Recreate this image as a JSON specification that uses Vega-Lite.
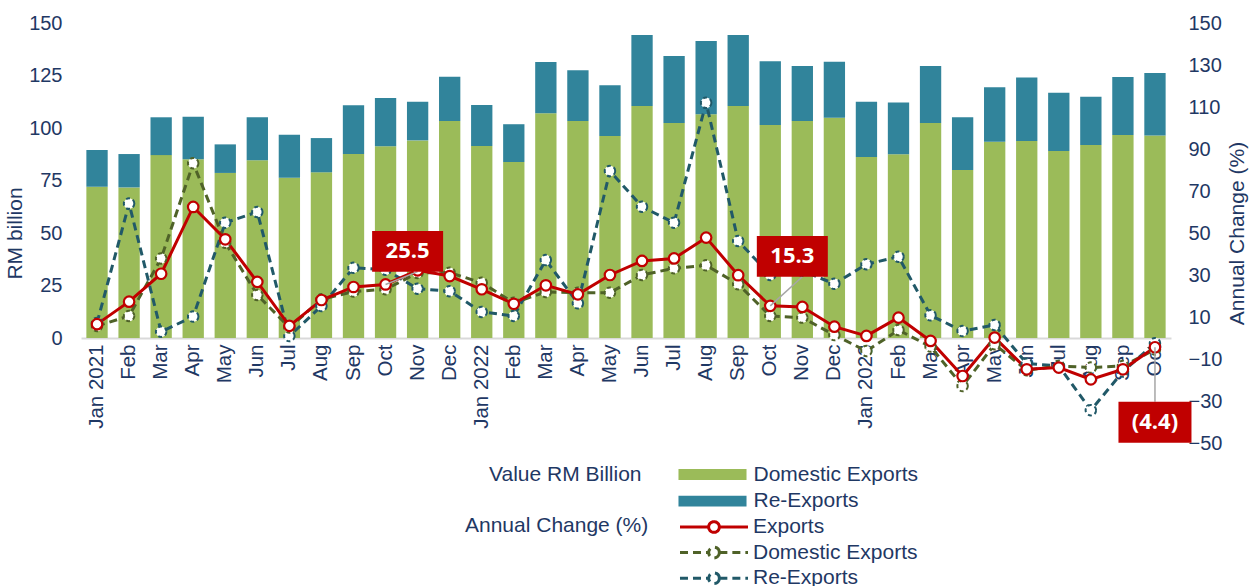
{
  "$schema": "https://vega.github.io/schema/vega-lite/v6.json",
  "width": 1090,
  "height": 420,
  "autosize": {"type": "none"},
  "padding": {"left": 81, "top": 23, "right": 87, "bottom": 143},
  "background": "white",
  "config": {
    "font": "Liberation Sans",
    "view": {"stroke": null},
    "axis": {"labelColor": "#1F3864", "titleColor": "#1F3864", "labelFont": "Liberation Sans", "titleFont": "Liberation Sans", "labelFontSize": 20, "titleFontSize": 21, "titleFontWeight": "normal", "grid": false, "ticks": false},
    "legend": {"labelColor": "#1F3864", "titleColor": "#1F3864", "labelFont": "Liberation Sans", "titleFont": "Liberation Sans", "labelFontSize": 21, "titleFontSize": 21, "titleFontWeight": "normal", "labelLimit": 400, "titleLimit": 400, "padding": 0}
  },
  "datasets": {
    "values": [
      {"m": "Jan 2021", "Domestic Exports": 72.0, "Re-Exports": 17.5},
      {"m": "Feb 2021", "Domestic Exports": 71.7, "Re-Exports": 15.9},
      {"m": "Mar 2021", "Domestic Exports": 87.1, "Re-Exports": 18.0},
      {"m": "Apr 2021", "Domestic Exports": 85.1, "Re-Exports": 20.3},
      {"m": "May 2021", "Domestic Exports": 78.6, "Re-Exports": 13.6},
      {"m": "Jun 2021", "Domestic Exports": 84.6, "Re-Exports": 20.5},
      {"m": "Jul 2021", "Domestic Exports": 76.3, "Re-Exports": 20.5},
      {"m": "Aug 2021", "Domestic Exports": 78.9, "Re-Exports": 16.3},
      {"m": "Sep 2021", "Domestic Exports": 87.6, "Re-Exports": 23.2},
      {"m": "Oct 2021", "Domestic Exports": 91.3, "Re-Exports": 23.0},
      {"m": "Nov 2021", "Domestic Exports": 94.1, "Re-Exports": 18.4},
      {"m": "Dec 2021", "Domestic Exports": 103.3, "Re-Exports": 21.1},
      {"m": "Jan 2022", "Domestic Exports": 91.4, "Re-Exports": 19.6},
      {"m": "Feb 2022", "Domestic Exports": 83.8, "Re-Exports": 18.0},
      {"m": "Mar 2022", "Domestic Exports": 107.0, "Re-Exports": 24.4},
      {"m": "Apr 2022", "Domestic Exports": 103.3, "Re-Exports": 24.2},
      {"m": "May 2022", "Domestic Exports": 96.2, "Re-Exports": 24.1},
      {"m": "Jun 2022", "Domestic Exports": 110.5, "Re-Exports": 33.8},
      {"m": "Jul 2022", "Domestic Exports": 102.4, "Re-Exports": 31.9},
      {"m": "Aug 2022", "Domestic Exports": 106.5, "Re-Exports": 34.9},
      {"m": "Sep 2022", "Domestic Exports": 110.5, "Re-Exports": 33.8},
      {"m": "Oct 2022", "Domestic Exports": 101.4, "Re-Exports": 30.4},
      {"m": "Nov 2022", "Domestic Exports": 103.3, "Re-Exports": 26.2},
      {"m": "Dec 2022", "Domestic Exports": 104.9, "Re-Exports": 26.7},
      {"m": "Jan 2023", "Domestic Exports": 86.2, "Re-Exports": 26.3},
      {"m": "Feb 2023", "Domestic Exports": 87.5, "Re-Exports": 24.7},
      {"m": "Mar 2023", "Domestic Exports": 102.4, "Re-Exports": 27.1},
      {"m": "Apr 2023", "Domestic Exports": 80.0, "Re-Exports": 25.1},
      {"m": "May 2023", "Domestic Exports": 93.5, "Re-Exports": 25.9},
      {"m": "Jun 2023", "Domestic Exports": 93.8, "Re-Exports": 30.2},
      {"m": "Jul 2023", "Domestic Exports": 89.0, "Re-Exports": 27.8},
      {"m": "Aug 2023", "Domestic Exports": 91.9, "Re-Exports": 23.0},
      {"m": "Sep 2023", "Domestic Exports": 96.7, "Re-Exports": 27.6},
      {"m": "Oct 2023", "Domestic Exports": 96.4, "Re-Exports": 29.8}
    ],
    "growth": [
      {"m": "Jan 2021", "Exports": 6.6, "Domestic Exports": 5.7, "Re-Exports": 7.2},
      {"m": "Feb 2021", "Exports": 17.3, "Domestic Exports": 10.5, "Re-Exports": 64.0},
      {"m": "Mar 2021", "Exports": 30.6, "Domestic Exports": 37.9, "Re-Exports": 3.0},
      {"m": "Apr 2021", "Exports": 62.4, "Domestic Exports": 83.2, "Re-Exports": 10.2},
      {"m": "May 2021", "Exports": 47.0, "Domestic Exports": 45.4, "Re-Exports": 54.9},
      {"m": "Jun 2021", "Exports": 26.7, "Domestic Exports": 20.5, "Re-Exports": 60.0},
      {"m": "Jul 2021", "Exports": 5.8, "Domestic Exports": 5.0, "Re-Exports": 0.9},
      {"m": "Aug 2021", "Exports": 18.1, "Domestic Exports": 18.4, "Re-Exports": 15.2},
      {"m": "Sep 2021", "Exports": 24.3, "Domestic Exports": 22.1, "Re-Exports": 33.4},
      {"m": "Oct 2021", "Exports": 25.5, "Domestic Exports": 23.2, "Re-Exports": 32.5},
      {"m": "Nov 2021", "Exports": 32.2, "Domestic Exports": 31.0, "Re-Exports": 23.5},
      {"m": "Dec 2021", "Exports": 29.5, "Domestic Exports": 31.1, "Re-Exports": 22.3},
      {"m": "Jan 2022", "Exports": 23.2, "Domestic Exports": 26.3, "Re-Exports": 12.4},
      {"m": "Feb 2022", "Exports": 16.3, "Domestic Exports": 16.8, "Re-Exports": 10.5},
      {"m": "Mar 2022", "Exports": 25.1, "Domestic Exports": 21.9, "Re-Exports": 37.1},
      {"m": "Apr 2022", "Exports": 20.8, "Domestic Exports": 21.6, "Re-Exports": 16.5},
      {"m": "May 2022", "Exports": 30.0, "Domestic Exports": 21.6, "Re-Exports": 79.5},
      {"m": "Jun 2022", "Exports": 36.7, "Domestic Exports": 30.0, "Re-Exports": 62.5},
      {"m": "Jul 2022", "Exports": 37.9, "Domestic Exports": 33.2, "Re-Exports": 54.9},
      {"m": "Aug 2022", "Exports": 47.8, "Domestic Exports": 34.6, "Re-Exports": 112.0},
      {"m": "Sep 2022", "Exports": 29.9, "Domestic Exports": 25.6, "Re-Exports": 46.2},
      {"m": "Oct 2022", "Exports": 15.3, "Domestic Exports": 10.5, "Re-Exports": 30.0},
      {"m": "Nov 2022", "Exports": 14.8, "Domestic Exports": 9.7, "Re-Exports": 32.0},
      {"m": "Dec 2022", "Exports": 5.4, "Domestic Exports": 1.4, "Re-Exports": 25.8},
      {"m": "Jan 2023", "Exports": 1.0, "Domestic Exports": -6.2, "Re-Exports": 35.1},
      {"m": "Feb 2023", "Exports": 9.7, "Domestic Exports": 3.8, "Re-Exports": 38.7},
      {"m": "Mar 2023", "Exports": -1.4, "Domestic Exports": -4.1, "Re-Exports": 10.8},
      {"m": "Apr 2023", "Exports": -18.1, "Domestic Exports": -22.9, "Re-Exports": 3.3},
      {"m": "May 2023", "Exports": 0.2, "Domestic Exports": -3.0, "Re-Exports": 6.2},
      {"m": "Jun 2023", "Exports": -14.9, "Domestic Exports": -15.4, "Re-Exports": -12.2},
      {"m": "Jul 2023", "Exports": -14.1, "Domestic Exports": -13.3, "Re-Exports": -13.3},
      {"m": "Aug 2023", "Exports": -19.7, "Domestic Exports": -14.1, "Re-Exports": -34.4},
      {"m": "Sep 2023", "Exports": -14.9, "Domestic Exports": -13.3, "Re-Exports": -16.0},
      {"m": "Oct 2023", "Exports": -4.4, "Domestic Exports": -5.5, "Re-Exports": -2.5}
    ],
    "notes": [
      {"m": "Oct 2021", "m2": "Nov 2021", "v": 25.5, "v2": 31.6, "bx": "Nov 2021", "b1": 31.6, "b2": 51.0, "bc": 41.3, "t": "25.5", "g": "up"},
      {"m": "Oct 2022", "m2": "Nov 2022", "v": 15.3, "v2": 29.2, "bx": "Nov 2022", "b1": 29.2, "b2": 48.6, "bc": 38.9, "t": "15.3", "g": "up"},
      {"m": "Oct 2023", "m2": "Oct 2023", "v": -4.4, "v2": -30.3, "bx": "Oct 2023", "b1": -49.9, "b2": -30.3, "bc": -40.1, "t": "(4.4)", "g": "down"}
    ]
  },
  "layer": [
    {
      "data": {"name": "values"},
      "transform": [{"fold": ["Domestic Exports", "Re-Exports"], "as": ["component", "rm"]}],
      "mark": {"type": "bar"},
      "encoding": {
        "x": {
          "field": "m", "type": "nominal", "sort": null, "title": null,
          "scale": {"domain": ["Jan 2021","Feb 2021","Mar 2021","Apr 2021","May 2021","Jun 2021","Jul 2021","Aug 2021","Sep 2021","Oct 2021","Nov 2021","Dec 2021","Jan 2022","Feb 2022","Mar 2022","Apr 2022","May 2022","Jun 2022","Jul 2022","Aug 2022","Sep 2022","Oct 2022","Nov 2022","Dec 2022","Jan 2023","Feb 2023","Mar 2023","Apr 2023","May 2023","Jun 2023","Jul 2023","Aug 2023","Sep 2023","Oct 2023"], "paddingInner": 0.335, "paddingOuter": 0.1675},
          "axis": {"title": null, "offset": -105, "labelAngle": -90, "labelAlign": "right", "labelBaseline": "middle", "labelPadding": 6, "domainColor": "#D9D9D9", "domainWidth": 2, "labelOverlap": false, "labelFontSize": 20.5, "labelExpr": "indexof(datum.value,'Jan')==0 ? datum.value : slice(datum.value,0,3)"}
        },
        "y": {
          "field": "rm", "type": "quantitative", "stack": "zero",
          "scale": {"domain": [-50, 150], "nice": false, "zero": false},
          "axis": {"title": "RM billion", "values": [0, 25, 50, 75, 100, 125, 150], "domain": false, "labelPadding": 19, "titlePadding": 3}
        },
        "fill": {
          "field": "component", "type": "nominal",
          "scale": {"domain": ["Domestic Exports", "Re-Exports"], "range": ["#9BBB59", "#31849B"]},
          "legend": {"title": "Value RM Billion", "orient": "none", "legendX": 408, "legendY": 441, "titleOrient": "left", "titleAnchor": "start", "titleBaseline": "top", "titlePadding": 60, "symbolType": "M-3.24,-0.52H3.24V0.52H-3.24Z", "symbolSize": 441, "symbolStrokeWidth": 0, "labelOffset": 30.5, "rowPadding": 4.6}
        },
        "order": {"field": "component", "sort": "ascending"}
      }
    },
    {
      "data": {"name": "growth"},
      "transform": [{"fold": ["Re-Exports", "Domestic Exports", "Exports"], "as": ["series", "pct"]}],
      "layer": [
        {
          "transform": [{"filter": "datum.series != 'Exports'"}],
          "mark": {"type": "line", "strokeWidth": 3},
          "encoding": {
            "x": {"field": "m", "type": "nominal", "sort": null, "title": null},
            "y": {
              "field": "pct", "type": "quantitative", "title": "Annual Change (%)",
              "scale": {"domain": [-50, 150], "nice": false, "zero": false},
              "axis": {"orient": "right", "title": "Annual Change (%)", "values": [-50, -30, -10, 10, 30, 50, 70, 90, 110, 130, 150], "domain": false, "labelPadding": 17, "titlePadding": 5, "titleAngle": -90, "titleBaseline": "top"}
            },
            "stroke": {
              "field": "series", "type": "nominal",
              "scale": {"domain": ["Exports", "Domestic Exports", "Re-Exports"], "range": ["#C00000", "#4F6228", "#215968"]},
              "legend": {"title": "Annual Change (%)", "orient": "none", "legendX": 384, "legendY": 492, "titleOrient": "left", "titleAnchor": "start", "titleBaseline": "top", "titlePadding": 53, "symbolType": "M-3.24,0H-0.51M0.51,0H3.24M0.51,0A0.51,0.51,0,1,1,-0.51,0A0.51,0.51,0,1,1,0.51,0", "symbolSize": 441, "symbolStrokeWidth": 3, "symbolFillColor": "white", "labelOffset": 27, "rowPadding": 1.6, "encode": {"symbols": {"update": {"fill": {"value": "white"}}}}}
            },
            "strokeDash": {
              "field": "series", "type": "nominal",
              "scale": {"domain": ["Exports", "Domestic Exports", "Re-Exports"], "range": [[1, 0], [8, 5], [8, 5]]},
              "legend": {"title": "Annual Change (%)", "orient": "none", "legendX": 384, "legendY": 492, "titleOrient": "left", "titleAnchor": "start", "titleBaseline": "top", "titlePadding": 53, "symbolType": "M-3.24,0H-0.51M0.51,0H3.24M0.51,0A0.51,0.51,0,1,1,-0.51,0A0.51,0.51,0,1,1,0.51,0", "symbolSize": 441, "symbolStrokeWidth": 3, "symbolFillColor": "white", "labelOffset": 27, "rowPadding": 1.6, "encode": {"symbols": {"update": {"fill": {"value": "white"}}}}}
            }
          }
        },
        {
          "transform": [{"filter": "datum.series == 'Exports'"}],
          "mark": {"type": "line", "strokeWidth": 3},
          "encoding": {
            "x": {"field": "m", "type": "nominal", "sort": null, "title": null},
            "y": {"field": "pct", "type": "quantitative", "title": "Annual Change (%)"},
            "stroke": {"field": "series", "type": "nominal", "legend": null}
          }
        },
        {
          "transform": [{"filter": "datum.series != 'Exports'"}],
          "mark": {"type": "point", "shape": "circle", "filled": true, "fill": "white", "opacity": 1, "size": 110, "strokeWidth": 2, "strokeDash": [4, 3]},
          "encoding": {
            "x": {"field": "m", "type": "nominal", "sort": null, "title": null},
            "y": {"field": "pct", "type": "quantitative", "title": "Annual Change (%)"},
            "stroke": {"field": "series", "type": "nominal", "legend": null}
          }
        },
        {
          "transform": [{"filter": "datum.series == 'Exports'"}],
          "mark": {"type": "point", "shape": "circle", "filled": true, "fill": "white", "opacity": 1, "size": 110, "strokeWidth": 2.2},
          "encoding": {
            "x": {"field": "m", "type": "nominal", "sort": null, "title": null},
            "y": {"field": "pct", "type": "quantitative", "title": "Annual Change (%)"},
            "stroke": {"field": "series", "type": "nominal", "legend": null}
          }
        },
        {
          "data": {"name": "notes"},
          "mark": {"type": "rule", "color": "#A6A6A6", "strokeWidth": 1.5},
          "encoding": {
            "x": {"field": "m", "type": "nominal", "title": null},
            "x2": {"field": "m2"},
            "y": {"field": "v", "type": "quantitative", "title": "Annual Change (%)"},
            "y2": {"field": "v2"}
          }
        },
        {
          "data": {"name": "notes"},
          "transform": [{"filter": "datum.g == 'up'"}],
          "mark": {"type": "bar", "color": "#C00000", "width": 71, "xOffset": -10},
          "encoding": {
            "x": {"field": "bx", "type": "nominal", "title": null},
            "y": {"field": "b1", "type": "quantitative", "title": "Annual Change (%)"},
            "y2": {"field": "b2"}
          }
        },
        {
          "data": {"name": "notes"},
          "transform": [{"filter": "datum.g == 'down'"}],
          "mark": {"type": "bar", "color": "#C00000", "width": 73},
          "encoding": {
            "x": {"field": "bx", "type": "nominal", "title": null},
            "y": {"field": "b1", "type": "quantitative", "title": "Annual Change (%)"},
            "y2": {"field": "b2"}
          }
        },
        {
          "data": {"name": "notes"},
          "transform": [{"filter": "datum.g == 'up'"}],
          "mark": {"type": "text", "color": "white", "font": "Open Sans", "fontWeight": "bold", "fontSize": 22, "align": "center", "baseline": "middle", "xOffset": -10},
          "encoding": {
            "x": {"field": "bx", "type": "nominal", "title": null},
            "y": {"field": "bc", "type": "quantitative", "title": "Annual Change (%)"},
            "text": {"field": "t"}
          }
        },
        {
          "data": {"name": "notes"},
          "transform": [{"filter": "datum.g == 'down'"}],
          "mark": {"type": "text", "color": "white", "font": "Open Sans", "fontWeight": "bold", "fontSize": 22, "align": "center", "baseline": "middle"},
          "encoding": {
            "x": {"field": "bx", "type": "nominal", "title": null},
            "y": {"field": "bc", "type": "quantitative", "title": "Annual Change (%)"},
            "text": {"field": "t"}
          }
        }
      ]
    }
  ],
  "resolve": {"scale": {"y": "independent"}}
}
